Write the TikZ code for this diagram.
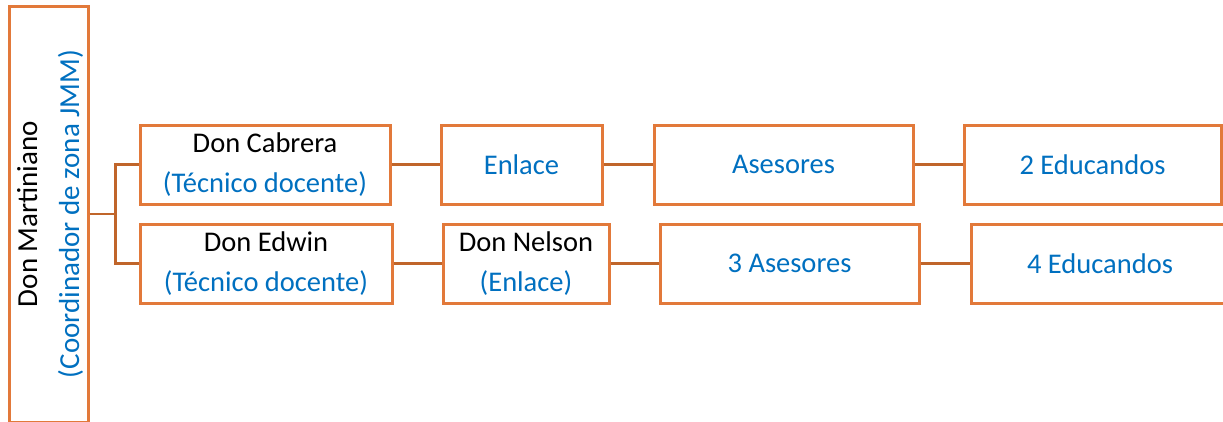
\documentclass[tikz,border=0pt]{standalone}
\usepackage{fontspec}
\setmainfont{Carlito}
\definecolor{boxorange}{HTML}{E2793A}
\definecolor{linkbrown}{HTML}{C0652A}
\definecolor{roleblue}{HTML}{0070C0}
\begin{document}
\begin{tikzpicture}[x=1pt,y=-1pt,
  box/.style={draw=boxorange, line width=3pt, fill=white, inner sep=0pt,
    align=center, font=\fontsize{28.5}{40}\selectfont},
  label/.style={inner sep=0pt, align=center, font=\fontsize{29}{42}\selectfont},
  link/.style={draw=linkbrown, line width=2.6pt},
  row1/.style={minimum height=79pt},
  row2/.style={minimum height=79pt}]
\useasboundingbox (0,0) rectangle (1223,421);

% coordinator column
\node[box, minimum width=79pt, minimum height=416pt] (mart) at (48.5,214) {};
\node[label, rotate=90] (martlbl) at (50,214)
  {Don Martiniano\\{\color{roleblue}(Coordinador de zona JMM)}};

% first chain
\node[box, row1, minimum width=250pt] (b11) at (265,164.5)
  {Don Cabrera\\{\color{roleblue}(Técnico docente)}};
\node[box, row1, minimum width=161pt] (b12) at (521.5,164.5)
  {\color{roleblue}Enlace};
\node[box, row1, minimum width=259pt] (b13) at (783.5,164.5)
  {\color{roleblue}Asesores};
\node[box, row1, minimum width=257pt] (b14) at (1092.5,164.5)
  {\color{roleblue}2 Educandos};

% second chain
\node[box, row2, minimum width=252pt] (b21) at (266,263.5)
  {Don Edwin\\{\color{roleblue}(Técnico docente)}};
\node[box, row2, minimum width=166pt] (b22) at (526,263.5)
  {Don Nelson\\{\color{roleblue}(Enlace)}};
\node[box, row2, minimum width=259pt] (b23) at (789.5,263.5)
  {\color{roleblue}3 Asesores};
\node[box, row2, minimum width=258pt] (b24) at (1100,263.5)
  {\color{roleblue}4 Educandos};

% connectors
\draw[link] (mart.east) -- ++(26,0) coordinate (fork);
\draw[link] (fork) |- (b11.west);
\draw[link] (fork) |- (b21.west);
\draw[link] (b11.east) -- (b12.west);
\draw[link] (b12.east) -- (b13.west);
\draw[link] (b13.east) -- (b14.west);
\draw[link] (b21.east) -- (b22.west);
\draw[link] (b22.east) -- (b23.west);
\draw[link] (b23.east) -- (b24.west);
\end{tikzpicture}
\end{document}
